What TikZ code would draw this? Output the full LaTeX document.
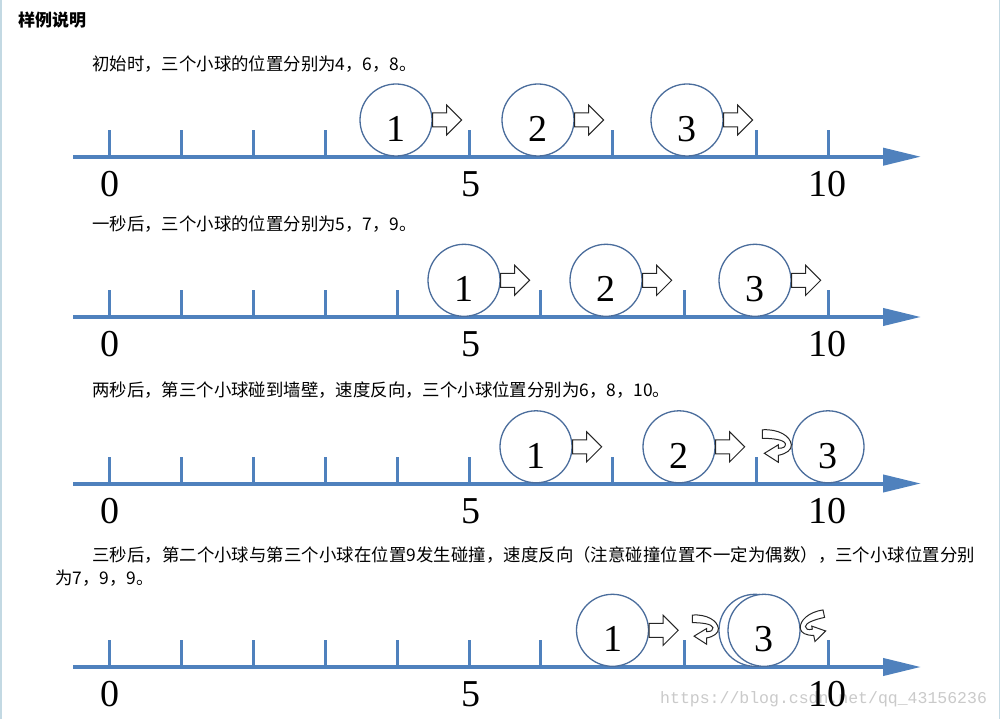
\documentclass[tikz,border=0pt]{standalone}
\usepackage{fontspec}
\setmainfont{Liberation Serif}
\newfontfamily\cjk{Noto Sans CJK SC}
\newfontfamily\wmfont{Liberation Mono}
\usetikzlibrary{arrows.meta,calc}
\definecolor{axisblue}{HTML}{4F81BD}
\definecolor{ballblue}{HTML}{4A6D9C}
\definecolor{bordercol}{HTML}{C3D9E3}
\definecolor{wmgray}{HTML}{CACACA}
\makeatletter
\def\spreadchars#1{\spread@aux#1\relax}
\def\spread@aux#1{\ifx#1\relax\else#1\hfil\expandafter\spread@aux\fi}
\makeatother
\tikzset{
  axisline/.style={line width=4pt, draw=axisblue, -{Triangle[length=38pt,width=17pt]}},
  tickmark/.style={line width=3pt, draw=axisblue},
  ball/.style={circle, draw=ballblue, line width=1.3pt, fill=white, minimum size=72pt, inner sep=0pt},
  balllabel/.style={anchor=base, inner sep=0pt, font=\fontsize{38}{38}\selectfont},
  axlabel/.style={anchor=base, inner sep=0pt, font=\fontsize{38}{38}\selectfont},
  barrow/.style={draw=black!85, fill=white, line width=1pt, line join=miter},
  txt/.style={anchor=base west, inner sep=0pt, font=\cjk\fontsize{17.4}{17.4}\selectfont},
  blockarrow/.pic={\draw[barrow] (0,-7) -- (14,-7) -- (14,-15) -- (29,0) -- (14,15) -- (14,7) -- (0,7) -- cycle;},
  uturn/.pic={\draw[barrow] (-29,-17) .. controls (-13,-18) and (-1,-11) .. (0,-2)
      .. controls (0.5,3) and (-5,7) .. (-13,8.5) -- (-13,15.5) -- (-27,6.5) -- (-13,-2) -- (-13,1.5)
      .. controls (-8,1.5) and (-5.5,0) .. (-6,-3)
      .. controls (-7,-7) and (-18,-8.5) .. (-29,-8.5) -- cycle;}
}
\begin{document}
\begin{tikzpicture}[x=1pt,y=-1pt]
\useasboundingbox (0,0) rectangle (1001,719);
\fill[white] (0,0) rectangle (1001,719);
% borders
\draw[bordercol, line width=1.5pt] (0.75,0) -- (0.75,719);
\draw[bordercol, line width=1.5pt] (999.5,0) -- (999.5,719);
% watermark
\node[anchor=base west, inner sep=0pt, text=wmgray, font=\wmfont\fontsize{16.5}{16.5}\selectfont] (wm) at (660,703) {https://blog.csdn.net/qq\_43156236};
% texts
\node[txt, font=\cjk\bfseries\fontsize{17}{17}\selectfont] (title) at (18,27) {样例说明};
\node[txt] (t1) at (92,71) {初始时，三个小球的位置分别为4，6，8。};
\node[txt] (t2) at (92,231) {一秒后，三个小球的位置分别为5，7，9。};
\node[txt] (t3) at (92,396) {两秒后，第三个小球碰到墙壁，速度反向，三个小球位置分别为6，8，10。};
\node[txt] (t4) at (92,561) {\hbox to 883pt{\spreadchars{三秒后，第二个小球与第三个小球在位置9发生碰撞，速度反向（注意碰撞位置不一定为偶数），三个小球位置分别}\unskip}};
\node[txt] (t5) at (55,584) {为7，9，9。};
% axes
\foreach \ay in {156.7,317,483.5,667} {
  \draw[axisline] (73,\ay) -- (921,\ay);
  \foreach \i in {0,...,10} \draw[tickmark] ({109.5+71.9*\i},\ay) -- ++(0,-27);
  \node[axlabel] at (110,\ay+39.5) {0};
  \node[axlabel] at (471,\ay+39.5) {5};
  \node[axlabel] at (827,\ay+39.5) {10};
}
% row 1
\node[ball] (b11) at (396,120) {};
\node[ball] (b12) at (538,120) {};
\node[ball] (b13) at (687,120) {};
% row 2
\node[ball] (b21) at (464,280.3) {};
\node[ball] (b22) at (606,280.3) {};
\node[ball] (b23) at (755,280.3) {};
% row 3
\node[ball] (b31) at (536,446.8) {};
\node[ball] (b32) at (679,446.8) {};
\node[ball] (b33) at (828,446.8) {};
% row 4
\node[ball] (b41) at (612.5,630.3) {};
\node[ball] (b42) at (755,630.3) {};
\node[ball] (b43) at (764,630.3) {};
% ball numbers
\foreach \b/\n in {b11/1,b12/2,b13/3,b21/1,b22/2,b23/3,b31/1,b32/2,b33/3,b41/1,b43/3}
  \node[balllabel] at ($(\b.center)+(0,21.5)$) {\n};
% straight arrows
\foreach \b in {b11,b12,b13,b21,b22,b23,b31,b32,b41}
  \pic at (\b.east) {blockarrow};
% U-turn arrows
\pic at (b33.west) {uturn};
\pic[scale=0.9] at (b42.west) {uturn};
\pic[xscale=-0.9, yscale=0.9, rotate=-12] at (b43.east) {uturn};
\end{tikzpicture}
\end{document}
